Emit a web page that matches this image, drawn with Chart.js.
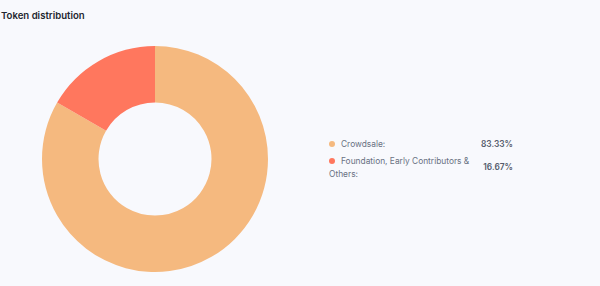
<!DOCTYPE html>
<html>
<head>
<meta charset="utf-8">
<script src="https://cdn.jsdelivr.net/npm/chart.js@4"></script>
<style>
  html, body { margin: 0; padding: 0; background: #f8f9fd; font-family: Inter, sans-serif; }
  #wrap { position: relative; width: 600px; height: 286px; overflow: hidden; }
  h3 { position: absolute; left: 1px; top: 11px; margin: 0; font-size: 9.6px; line-height: 10px; font-weight: 600; color: #23262f; }
  #chartBox { position: absolute; left: 40px; top: 44px; width: 230px; height: 230px; }
  #legend { position: absolute; left: 329px; top: 138px; width: 184px; font-size: 8.4px; color: #697183; }
  .row { display: flex; align-items: center; margin-bottom: 3px; }
  .lbl { width: 150px; line-height: 13.5px; }
  .dot { display: inline-block; width: 6px; height: 6px; border-radius: 50%; margin-right: 6px; vertical-align: 0px; }
  .pct { margin-left: auto; font-weight: 600; color: #555c6c; line-height: 13.5px; }
</style>
</head>
<body>
<div id="wrap">
  <h3>Token distribution</h3>
  <div id="chartBox"><canvas id="tokenChart"></canvas></div>
  <div id="legend"></div>
</div>
<script>
// Token distribution data
var labels = ['Crowdsale:', 'Foundation, Early Contributors & Others:'];
var shares = [83.33, 16.67];
var colors = ['#f5b97f', '#ff775e'];

var ctx = document.getElementById('tokenChart').getContext('2d');
var tokenChart = new Chart(ctx, {
    type: 'doughnut',
    data: {
        labels: labels,
        datasets: [{
            data: shares,
            backgroundColor: colors,
            borderWidth: 0
        }]
    },
    options: {
        cutout: '50%',
        responsive: true,
        maintainAspectRatio: false,
        animation: false,
        layout: { padding: 2 },
        plugins: {
            legend: { display: false },
            tooltip: { enabled: false }
        }
    }
});

// legend on the right
var legend = document.getElementById('legend');
labels.forEach(function (l, i) {
    var row = document.createElement('div');
    row.className = 'row';
    row.innerHTML = '<div class="lbl"><span class="dot" style="background:' + colors[i] + '"></span>' +
        '<span class="txt"></span></div><span class="pct">' + shares[i].toFixed(2) + '%</span>';
    row.querySelector('.txt').textContent = l;
    legend.appendChild(row);
});
</script>
</body>
</html>
